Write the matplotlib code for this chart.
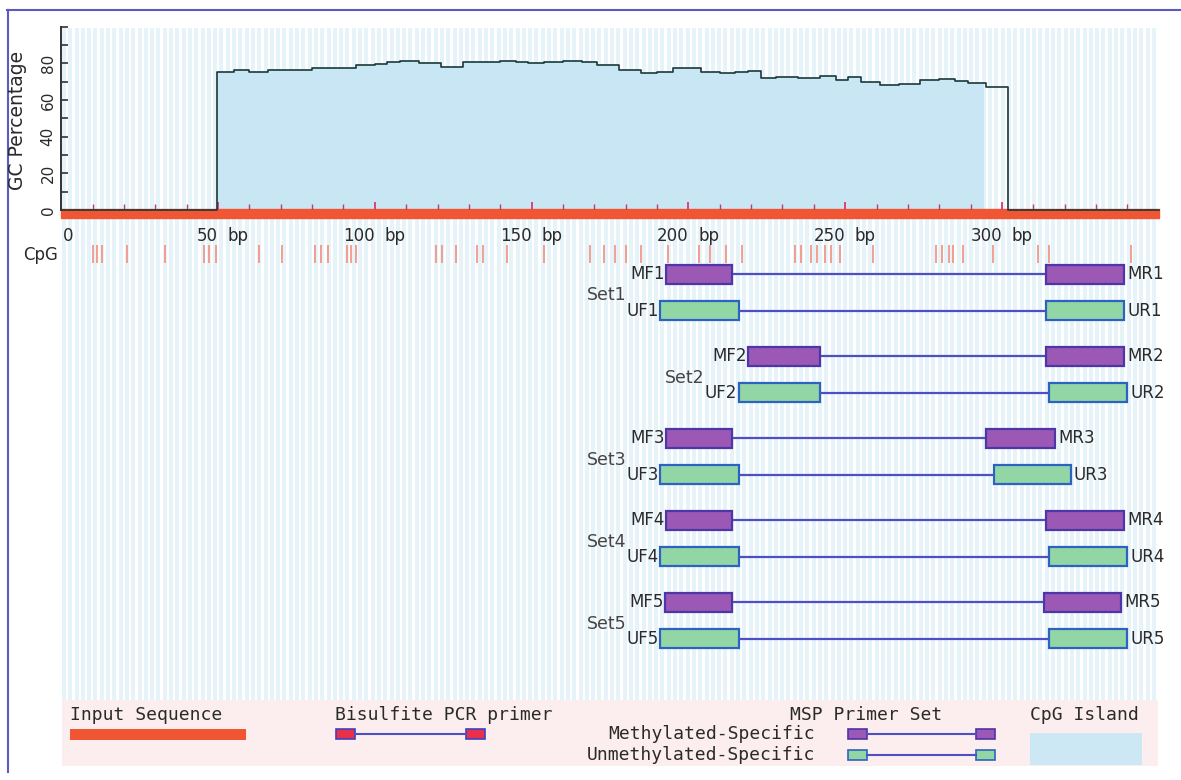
import matplotlib
matplotlib.use('Agg')
import matplotlib.pyplot as plt
from matplotlib.patches import Rectangle
import numpy as np

# ---- data ----
seq_len = 350

# GC percentage profile: breakpoints (bp) and value held until next breakpoint
gc_pos = [0, 49.8, 55, 60, 66, 72, 80, 87, 94, 100, 104, 108, 114, 121, 128, 134,
          140, 145, 149, 154, 160, 166, 171, 178, 185, 190, 195, 200, 204, 210, 215,
          219, 223, 228, 235, 242, 247, 251, 255, 261, 267, 274, 280, 285, 289, 295,
          302, 350]
gc_val = [0, 75.3, 76.2, 75.5, 76.4, 76.2, 77.6, 77.4, 79.1, 79.5, 80.9, 81.3, 80.0,
          78.2, 80.5, 80.8, 81.3, 81.0, 80.0, 80.9, 81.2, 80.5, 79.1, 76.4, 74.9, 75.5,
          77.6, 77.2, 75.1, 74.8, 75.4, 75.8, 72.2, 72.4, 72.0, 73.1, 70.9, 72.4, 70.0,
          68.2, 68.6, 70.9, 71.2, 70.5, 69.1, 67.0, 0, 0]

island_start = 49.5
island_end = 294

cpg_sites = [10, 11.5, 13, 21, 33, 45.5, 47, 49.5, 63, 70.5, 81, 83, 85, 91, 92.5, 94,
             119.5, 121.5, 126, 132.5, 134.5, 142, 154, 168.5, 173, 176.5, 180, 185,
             193.5, 203.5, 207, 212, 217, 234, 236, 239, 241, 243.5, 245.5, 248.5, 259,
             279, 281, 283, 284.5, 287.5, 297, 311.5, 315, 341]

xtick_bp = [50, 100, 150, 200, 250, 300]

set_names = ['Set1', 'Set2', 'Set3', 'Set4', 'Set5']
mf = [(193, 214), (219, 242), (193, 214), (193, 214), (192.5, 214)]
mr = [(314, 339), (314, 339), (295, 317), (314, 339), (313.5, 338)]
uf = [(191, 216), (216, 242), (191, 216), (191, 216), (191, 216)]
ur = [(314, 339), (315, 340), (297.5, 322), (315, 340), (315, 340)]

# ---- styles ----
W, H = 1181, 780
sans = 'DejaVu Sans'
mono = 'DejaVu Sans Mono'
txt_c = '#2a2a2a'
red_c = '#F05634'
line_c = '#4F4FC4'
purple_fc, purple_ec = '#9B58B4', '#4E35A8'
green_fc, green_ec = '#93D6A6', '#2D63C0'
island_c = '#C9E6F4'
stripe_c = '#E6F3F9'
cpg_c = '#F2907E'

fig = plt.figure(figsize=(W / 100, H / 100), dpi=100)


def px_box(l, t, r, b):
    return [l / W, 1 - b / H, (r - l) / W, (b - t) / H]


# pixel overlay for background, frame and key
ax_bg = fig.add_axes([0, 0, 1, 1])
ax_bg.set_xlim(0, W)
ax_bg.set_ylim(H, 0)
ax_bg.axis('off')

for x in np.arange(62, 1156, 6.3):
    ax_bg.add_patch(Rectangle((x, 28), 4, 672, color=stripe_c, lw=0))

ax_bg.plot([7, W], [10, 10], color='#5A5AC0', lw=1.5)
ax_bg.plot([7.5, 7.5], [10, 772], color='#5A5AC0', lw=1.5)

# ---- GC percentage plot ----
ax_gc = fig.add_axes(px_box(61.2, 26.7, 1158.8, 210))
ax_gc.set_facecolor('none')
ax_gc.set_xlim(0, seq_len)
ax_gc.set_ylim(0, 100)

fill = ax_gc.fill_between(gc_pos, gc_val, 0, step='post', color=island_c, lw=0, zorder=1)
clip = Rectangle((island_start, 0), island_end - island_start, 100, transform=ax_gc.transData)
fill.set_clip_path(clip)
ax_gc.plot(gc_pos, gc_val, drawstyle='steps-post', color='#1C3838', lw=1.2, zorder=3,
           clip_on=False)

# input sequence bar with bp ticks
ax_gc.broken_barh([(0, seq_len)], (-4.6, 4.9), color=red_c, clip_on=False, zorder=2)
for t in np.arange(10, seq_len, 10):
    big = t % 50 == 0
    ax_gc.vlines(t, 0, 4.5 if big else 3.2, color='#E0407A' if big else '#B8406A',
                 lw=1.4 if big else 1, zorder=2)

for s in ['top', 'right', 'bottom']:
    ax_gc.spines[s].set_visible(False)
ax_gc.spines['left'].set_color('#333333')
ax_gc.spines['left'].set_linewidth(1.4)
ax_gc.set_xticks([])
ax_gc.set_yticks([0, 20, 40, 60, 80])
ax_gc.set_yticks([10, 30, 50, 70, 90, 100], minor=True)
ax_gc.tick_params(axis='y', which='both', direction='in', length=5, width=1.2,
                  color='#333333', pad=4, labelsize=11, labelcolor=txt_c)
for lab in ax_gc.get_yticklabels():
    lab.set_rotation(90)
    lab.set_va('center')
    lab.set_family(sans)
ax_gc.set_ylabel('GC Percentage', fontsize=13.5, family=sans, color=txt_c)
ax_gc.yaxis.set_label_coords(-0.031, 0.49)

# ---- track panel: bp labels, CpG sites, primer sets ----
ax_trk = fig.add_axes(px_box(61.2, 218, 1158.8, 700))
ax_trk.set_facecolor('none')
ax_trk.set_xlim(0, seq_len)
ax_trk.set_ylim(700, 218)
ax_trk.axis('off')

lab_font = dict(fontsize=12, family=sans, color=txt_c, va='center')

ax_trk.annotate('0', (0, 236), xytext=(1, 0), textcoords='offset points', ha='left',
                **lab_font)
for t in xtick_bp:
    ax_trk.annotate(str(t), (t, 236), ha='right', **lab_font)
    ax_trk.annotate('bp', (t, 236), xytext=(7, 0), textcoords='offset points',
                    ha='left', **lab_font)

ax_trk.text(-1, 255, 'CpG', ha='right', **lab_font)
ax_trk.vlines(cpg_sites, 245, 263, colors=cpg_c, lw=1.2)


def draw_primer(fwd, rev, y, fc, ec, lf, lr):
    ax_trk.plot([fwd[1], rev[0]], [y, y], color=line_c, lw=1.6, zorder=2)
    for a, b in (fwd, rev):
        ax_trk.add_patch(Rectangle((a, y - 9.5), b - a, 19, fc=fc, ec=ec, lw=1.6, zorder=3))
    ax_trk.annotate(lf, (fwd[0], y), xytext=(-1, 0), textcoords='offset points',
                    ha='right', **lab_font)
    ax_trk.annotate(lr, (rev[1], y), xytext=(2, 0), textcoords='offset points',
                    ha='left', **lab_font)


for k, name in enumerate(set_names):
    y_m = 274 + 82.1 * k
    y_u = y_m + 36.5
    n = k + 1
    draw_primer(mf[k], mr[k], y_m, purple_fc, purple_ec, f'MF{n}', f'MR{n}')
    draw_primer(uf[k], ur[k], y_u, green_fc, green_ec, f'UF{n}', f'UR{n}')
    left = min(mf[k][0], uf[k][0])
    ax_trk.annotate(name, (left, y_m + 21.5), xytext=(-24.5, 0), textcoords='offset points',
                    ha='right', va='center', fontsize=12.5, family=sans, color='#444444')

# ---- key ----
ax_bg.add_patch(Rectangle((62, 700), 1096, 66, fc='#FCEEEE', lw=0))
key_font = dict(fontsize=13, family=mono, color=txt_c, va='center')

ax_bg.text(70, 715, 'Input Sequence', ha='left', **key_font)
ax_bg.add_patch(Rectangle((70, 729), 176, 11, fc=red_c, lw=0))

ax_bg.text(335, 715, 'Bisulfite PCR primer', ha='left', **key_font)
ax_bg.plot([355, 466], [734, 734], color=line_c, lw=1.5)
for x0 in (336, 466):
    ax_bg.add_patch(Rectangle((x0, 729), 19, 10, fc='#E8304A', ec='#4040C0', lw=1.2))

ax_bg.text(790, 715, 'MSP Primer Set', ha='left', **key_font)
ax_bg.text(815, 734, 'Methylated-Specific', ha='right', **key_font)
ax_bg.text(815, 755, 'Unmethylated-Specific', ha='right', **key_font)
for y, fc, ec in ((734, purple_fc, purple_ec), (755, green_fc, green_ec)):
    ax_bg.plot([867, 976], [y, y], color=line_c, lw=1.5)
    for x0 in (848, 976):
        ax_bg.add_patch(Rectangle((x0, y - 5), 19, 10, fc=fc, ec=ec, lw=1.2))

ax_bg.text(1030, 715, 'CpG Island', ha='left', **key_font)
ax_bg.add_patch(Rectangle((1030, 733), 112, 32, fc='#CDE8F5', lw=0))

fig.savefig('out.png', dpi=100)
